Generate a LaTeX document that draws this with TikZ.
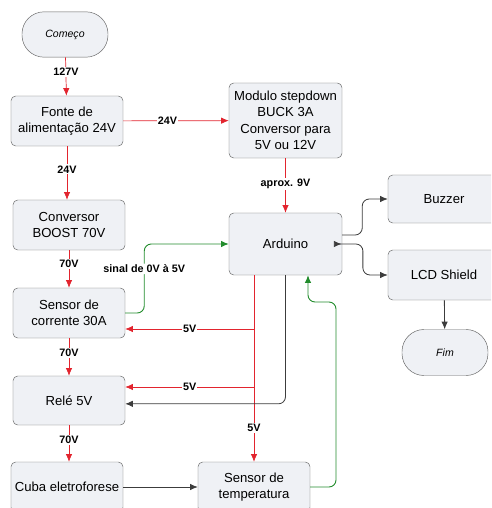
\documentclass[tikz,border=0pt]{standalone}
\usepackage{fontspec}
\setmainfont{Liberation Sans}
\definecolor{BoxFill}{RGB}{239,241,245}
\definecolor{BoxLine}{RGB}{100,100,100}
\definecolor{WireRed}{RGB}{226,36,46}
\definecolor{WireGreen}{RGB}{34,140,44}
\definecolor{WireGray}{RGB}{60,60,60}
\usetikzlibrary{arrows.meta,positioning,calc}

\begin{document}
\begin{tikzpicture}[x=0.03cm,y=-0.03cm,
    every node/.style={font=\fontsize{11.2}{14}\selectfont},
    blk/.style={draw=BoxLine,fill=BoxFill,rounded corners=4pt,inner sep=1pt,
                minimum width=3.36cm,minimum height=1.5cm,align=center},
    term/.style={draw=BoxLine,fill=BoxFill,rounded corners=0.66cm,
                 minimum width=2.58cm,minimum height=1.36cm,
                 font=\fontsize{9}{11}\selectfont\itshape},
    lbl/.style={fill=white,text=black,inner sep=1pt,font=\fontsize{9.2}{11}\selectfont\bfseries},
    rarr/.style={-{Latex[length=6.5pt,width=5.5pt]},WireRed,line width=0.6pt},
    garr/.style={-{Latex[length=6.5pt,width=5.5pt]},WireGreen,line width=0.8pt,rounded corners=6pt},
    karr/.style={-{Latex[length=6.5pt,width=5.5pt]},WireGray,line width=0.7pt,rounded corners=6pt}]
    \useasboundingbox (0,0) rectangle (491,508);
    \clip (0,0) rectangle (491,508);
    % power chain on the left
    \node[term] (comeco) at (65,34.5) {Começo};
    \node[blk] (fonte)   at (67,121)  {Fonte de\\alimentação 24V};
    \node[blk] (boost)   at (69,225)  {Conversor\\BOOST 70V};
    \node[blk] (sensorc) at (69,313)  {Sensor de\\corrente 30A};
    \node[blk,minimum height=1.47cm] (rele) at (69,400.5) {Relé 5V};
    \node[blk] (cuba)    at (67,487)  {Cuba eletroforese};
    % control side
    \node[blk,minimum width=3.39cm,minimum height=2.25cm] (modulo) at (285.5,120.5)
        {Modulo stepdown\\BUCK 3A\\Conversor para\\5V ou 12V};
    \node[blk,minimum width=3.39cm,minimum height=1.86cm] (arduino) at (285.5,244) {Arduino};
    \node[blk] (sensort) at (254,487) {Sensor de\\temperatura};
    \node[blk,minimum height=1.44cm] (buzzer) at (444,199) {Buzzer};
    \node[blk] (lcd)     at (444,275) {LCD Shield};
    \node[term,minimum height=1.38cm] (fim) at (445,352.5) {Fim};
    % junctions on the 5V bus
    \coordinate (j1) at (254,329);
    \coordinate (j2) at (254,387);
    \coordinate (gturn) at (336,302);

    \draw[rarr] (comeco) -- (fonte) node[lbl,pos=0.38] (v127) {127V};
    \draw[rarr] (fonte) -- (modulo) node[lbl,pos=0.42] (v24a) {24V};
    \draw[rarr] (fonte.south) -- (fonte.south |- boost.north) node[lbl,pos=0.43] (v24b) {24V};
    \draw[rarr] (boost) -- (sensorc) node[lbl,pos=0.37] (v70a) {70V};
    \draw[rarr] (sensorc) -- (rele) node[lbl,pos=0.39] (v70b) {70V};
    \draw[rarr] (rele.south) -- (rele.south |- cuba.north) node[lbl,pos=0.4] (v70c) {70V};
    \draw[rarr] (modulo) -- (arduino) node[lbl,pos=0.47] (v9) {aprox. 9V};
    % 5V bus out of the Arduino
    \draw[rarr] (sensort.north |- arduino.south) -- (sensort.north) node[lbl,pos=0.82] (v5c) {5V};
    \draw[rarr] (j1) -- (j1 -| sensorc.east) node[lbl,pos=0.5] (v5a) {5V};
    \draw[rarr] (j2) -- (j2 -| rele.east) node[lbl,pos=0.5] (v5b) {5V};
    % signals
    \draw[garr] (sensorc.east) -- ++(19,0) |- (arduino.west) node[lbl,pos=0.32] (sig) {sinal de 0V à 5V};
    \draw[garr] (sensort.east) -| (gturn) -| ([xshift=0.675cm]arduino.south);
    \draw[karr] (arduino.south) |- ([yshift=-0.1cm]rele.east);
    \draw[karr] (cuba) -- (sensort);
    \draw[karr] ([yshift=0.27cm]arduino.east) -- ++(20,0) |- (buzzer.west);
    \draw[karr,{Latex[length=6.5pt,width=5.5pt,reversed]}-{Latex[length=6.5pt,width=5.5pt]}]
        ([xshift=-0.25cm]arduino.east) -- ++(29,0) |- (lcd.west);
    \draw[karr] (lcd) -- (fim);
\end{tikzpicture}
\end{document}
